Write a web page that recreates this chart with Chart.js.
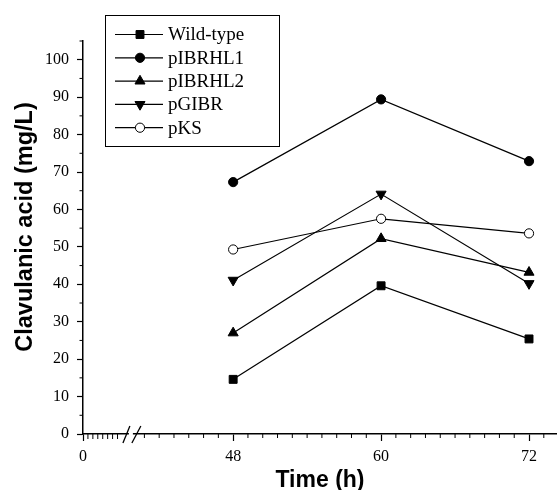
<!DOCTYPE html>
<html>
<head>
<meta charset="utf-8">
<script src="https://cdn.jsdelivr.net/npm/chart.js@4.4.0/dist/chart.umd.min.js"></script>
<style>
  html, body { margin: 0; padding: 0; background: #fff; }
  #wrap { width: 557px; height: 490px; }
</style>
</head>
<body>
<div id="wrap"><canvas id="c" width="557" height="490"></canvas></div>
<script>
// ---- data ----
const timeHours = [48, 60, 72];
const seriesNames = ['Wild-type', 'pIBRHL1', 'pIBRHL2', 'pGIBR', 'pKS'];
const wildType = [14.6, 39.6, 25.4];
const pIBRHL1 = [67.3, 89.4, 72.9];
const pIBRHL2 = [27.0, 52.2, 43.2];
const pGIBR = [41.1, 64.1, 40.2];
const pKS = [49.3, 57.5, 53.6];
const yTickValues = [0, 10, 20, 30, 40, 50, 60, 70, 80, 90, 100];
const xTickLabels = ['0', '48', '60', '72'];
const yAxisTitle = 'Clavulanic acid (mg/L)';
const xAxisTitle = 'Time (h)';
// broken time axis: the "0" origin sits just left of the break
const xAxisOrigin = 35.82;
const xAxisMax = 74.27;
const xBreakStart = 39.06;
const xBreakEnd = 40.35;
const xTickValues = [xAxisOrigin, 48, 60, 72];

const values = [wildType, pIBRHL1, pIBRHL2, pGIBR, pKS];
const styles = [
  { pointStyle: 'rect', radius: 5.6, rot: 0, fill: '#000' },
  { pointStyle: 'circle', radius: 4.6, rot: 0, fill: '#000' },
  { pointStyle: 'triangle', radius: 5.8, rot: 0, fill: '#000' },
  { pointStyle: 'triangle', radius: 5.8, rot: 180, fill: '#000' },
  { pointStyle: 'circle', radius: 4.6, rot: 0, fill: '#fff' }
];

const datasets = seriesNames.map((name, i) => ({
  label: name,
  data: timeHours.map((t, j) => ({ x: t, y: values[i][j] })),
  borderColor: '#000',
  borderWidth: 1.2,
  pointStyle: styles[i].pointStyle,
  pointRadius: styles[i].radius,
  pointRotation: styles[i].rot,
  pointBackgroundColor: styles[i].fill,
  pointBorderColor: '#000',
  pointBorderWidth: 1,
  tension: 0,
  fill: false
}));

const SERIF = '"Liberation Serif", "Times New Roman", serif';
const SANS = '"Liberation Sans", Arial, sans-serif';

const decorations = {
  id: 'decorations',
  afterDraw(chart) {
    const ctx = chart.ctx;
    const xs = chart.scales.x, ys = chart.scales.y;
    const axisY = ys.getPixelForValue(0);
    const axisX = xs.getPixelForValue(xAxisOrigin);
    ctx.save();
    ctx.strokeStyle = '#000';
    ctx.lineWidth = 1;
    // y minor ticks
    for (let v = 5; v <= 105; v += 10) {
      const py = ys.getPixelForValue(v);
      ctx.beginPath(); ctx.moveTo(axisX, py); ctx.lineTo(axisX - 3.5, py); ctx.stroke();
    }
    // x minor ticks, right of break
    for (let k = 1; ; k++) {
      const v = 48 - 1.2 * k;
      if (v < xBreakEnd) break;
      const px = xs.getPixelForValue(v);
      ctx.beginPath(); ctx.moveTo(px, axisY); ctx.lineTo(px, axisY + 4); ctx.stroke();
    }
    for (let k = 1; ; k++) {
      const v = 48 + 1.2 * k;
      if (v > xAxisMax) break;
      if (Math.abs(v - 60) < 0.01 || Math.abs(v - 72) < 0.01) continue;
      const px = xs.getPixelForValue(v);
      ctx.beginPath(); ctx.moveTo(px, axisY); ctx.lineTo(px, axisY + 4); ctx.stroke();
    }
    // dense ticks left of break
    for (let v = xAxisOrigin + 0.4; v < xBreakStart - 0.1; v += 0.4) {
      const px = xs.getPixelForValue(v);
      ctx.beginPath(); ctx.moveTo(px, axisY); ctx.lineTo(px, axisY + 5); ctx.stroke();
    }
    // axis break
    const b0 = xs.getPixelForValue(xBreakStart), b1 = xs.getPixelForValue(xBreakEnd);
    const bm = (b0 + b1) / 2;
    ctx.fillStyle = '#fff';
    ctx.fillRect(bm - 2, axisY - 2, 4, 4);
    ctx.lineWidth = 1.3;
    ctx.beginPath(); ctx.moveTo(b0, axisY + 9); ctx.lineTo(bm - 1, axisY - 8); ctx.stroke();
    ctx.beginPath(); ctx.moveTo(bm + 1, axisY + 9); ctx.lineTo(b1 + 2, axisY - 8); ctx.stroke();

    // y axis title
    ctx.save();
    ctx.translate(26, 227);
    ctx.rotate(-Math.PI / 2);
    ctx.fillStyle = '#000';
    ctx.font = 'bold 23.5px ' + SANS;
    ctx.textAlign = 'center';
    ctx.textBaseline = 'middle';
    ctx.fillText(yAxisTitle, 0, 0);
    ctx.restore();

    // legend
    const boxL = 105, boxT = 15, boxR = 279, boxB = 146;
    ctx.fillStyle = '#fff';
    ctx.fillRect(boxL, boxT, boxR - boxL, boxB - boxT);
    ctx.lineWidth = 1;
    ctx.strokeStyle = '#000';
    ctx.strokeRect(boxL + 0.5, boxT + 0.5, boxR - boxL, boxB - boxT);
    ctx.font = '19px ' + SERIF;
    ctx.textBaseline = 'middle';
    ctx.textAlign = 'left';
    chart.data.datasets.forEach((ds, i) => {
      const cy = 34.5 + i * 23.3;
      ctx.strokeStyle = '#000';
      ctx.lineWidth = 1.2;
      ctx.beginPath(); ctx.moveTo(115, cy); ctx.lineTo(163, cy); ctx.stroke();
      ctx.fillStyle = ds.pointBackgroundColor;
      ctx.lineWidth = 1;
      Chart.helpers.drawPoint(ctx, {
        pointStyle: ds.pointStyle, rotation: ds.pointRotation,
        radius: ds.pointRadius, borderWidth: 1
      }, 140, cy);
      ctx.fillStyle = '#000';
      ctx.fillText(ds.label, 168, cy + 1);
    });
    ctx.restore();
  }
};

new Chart(document.getElementById('c'), {
  type: 'line',
  data: { datasets },
  options: {
    responsive: false,
    animation: false,
    devicePixelRatio: 1,
    layout: { autoPadding: false, padding: { left: 37, top: 41, right: 0, bottom: -2 } },
    plugins: { legend: { display: false }, tooltip: { enabled: false } },
    scales: {
      x: {
        type: 'linear',
        min: xAxisOrigin,
        max: xAxisMax,
        afterBuildTicks: s => { s.ticks = xTickValues.map(v => ({ value: v })); },
        ticks: {
          autoSkip: false, maxRotation: 0, padding: 6, color: '#000',
          font: { family: SERIF, size: 16 },
          callback: (v, i) => xTickLabels[i]
        },
        grid: { drawOnChartArea: false, tickLength: 7, tickColor: '#000', tickWidth: 1.2 },
        border: { color: '#000', width: 1.5 },
        title: {
          display: true, text: xAxisTitle, color: '#000',
          font: { family: SANS, size: 23, weight: 'bold', lineHeight: 1 },
          padding: { top: -3.2, bottom: 0 }
        }
      },
      y: {
        min: 0,
        max: 105,
        afterBuildTicks: s => { s.ticks = yTickValues.map(v => ({ value: v })); },
        ticks: {
          padding: 8, color: '#000',
          font: { family: SERIF, size: 16 },
          callback: v => String(v)
        },
        grid: { drawOnChartArea: false, tickLength: 6, tickColor: '#000', tickWidth: 1.2 },
        border: { color: '#000', width: 1.5 },
        title: { display: false }
      }
    }
  },
  plugins: [decorations]
});
</script>
</body>
</html>
